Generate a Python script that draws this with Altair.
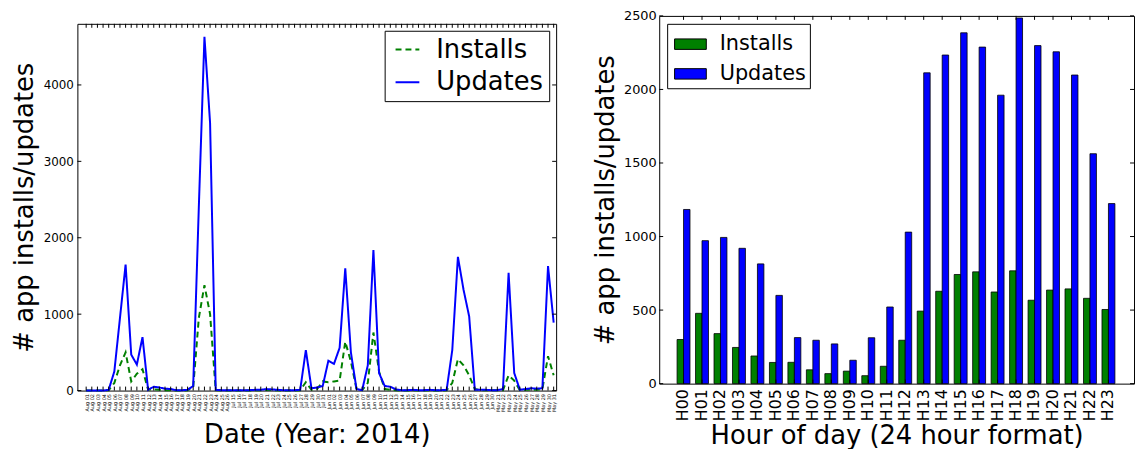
import altair as alt
import pandas as pd

FONT = "DejaVu Sans"

# ---------------- left panel data ----------------
dates = ([f"Aug {d:02d}" for d in range(1, 27)] +
         [f"Jul {d:02d}" for d in range(15, 32)] +
         [f"Jun {d:02d}" for d in range(1, 31)] +
         [f"May {d:02d}" for d in range(21, 32)])

updates = [0, 0, 0, 0, 10, 250, 950, 1650, 470, 340,
           700, 10, 50, 40, 25, 20, 5, 5, 10, 60,
           2400, 4630, 3500, 10, 5, 5, 5, 5, 5, 5,
           10, 10, 20, 15, 10, 5, 5, 5, 10, 530,
           30, 40, 60, 390, 350, 560, 1600, 500, 20, 5,
           330, 1840, 230, 60, 50, 15, 5, 5, 10, 5,
           5, 10, 5, 5, 10, 530, 1750, 1320, 970, 10,
           10, 10, 5, 5, 20, 1540, 230, 10, 20, 30,
           25, 30, 1630, 890]

installs = [0, 0, 0, 0, 5, 100, 330, 500, 120, 220,
            280, 10, 15, 10, 5, 5, 0, 0, 5, 40,
            950, 1380, 1000, 5, 0, 0, 0, 0, 0, 0,
            5, 5, 10, 5, 5, 0, 0, 0, 5, 110,
            10, 20, 120, 110, 120, 130, 640, 380, 20, 5,
            100, 760, 250, 20, 10, 5, 0, 0, 5, 0,
            0, 5, 0, 0, 5, 100, 410, 330, 200, 20,
            5, 5, 5, 5, 5, 200, 130, 5, 10, 10,
            10, 20, 450, 200]

left_yticks = [0, 1000, 2000, 3000, 4000]

# ---------------- right panel data ----------------
hours = [f"H{h:02d}" for h in range(24)]
hour_installs = [300, 478, 340, 246, 188, 144, 145, 94, 68, 85,
                 54, 118, 295, 493, 628, 742, 760, 623, 767, 567,
                 636, 644, 580, 504]
hour_updates = [1184, 972, 994, 920, 814, 600, 313, 295, 270, 159,
                312, 521, 1030, 2113, 2234, 2385, 2288, 1961, 2486, 2298,
                2256, 2098, 1563, 1224]
right_yticks = [0, 500, 1000, 1500, 2000, 2500]

series_names = ["Installs", "Updates"]
colors = ["#008000", "#0000ff"]

W1, H1 = 483, 370
W2, H2 = 479, 371

# ---------------- left chart ----------------
line_df = pd.DataFrame({
    "date": dates * 2,
    "series": ["Installs"] * len(dates) + ["Updates"] * len(dates),
    "value": installs + updates,
})
date_df = pd.DataFrame({"date": dates})
ly_df = pd.DataFrame({"value": left_yticks})

xl = alt.X("date:O", sort=dates,
           scale=alt.Scale(type="point", padding=2.07, align=0.78),
           axis=alt.Axis(title="Date (Year: 2014)", labelAngle=270, labelFontSize=5,
                         labelPadding=3, labelOverlap=False, titleFontSize=26,
                         titlePadding=10))
yl = alt.Y("value:Q", scale=alt.Scale(domain=[0, 4800], nice=False),
           axis=alt.Axis(values=left_yticks, format="d", title="# app installs/updates",
                         titleFontSize=26, labelFontSize=12, labelPadding=4,
                         titlePadding=6))

leg_left = alt.Legend(title=None, orient="top-right", offset=7,
                      labelFontSize=26, labelFont=FONT,
                      symbolType="stroke", symbolSize=576,
                      symbolStrokeWidth=2, labelOffset=16, symbolOffset=4,
                      strokeColor="black", fillColor="white",
                      padding=6, rowPadding=7)

lines = alt.Chart(line_df).mark_line(strokeWidth=2).encode(
    x=xl, y=yl,
    color=alt.Color("series:N", scale=alt.Scale(domain=series_names, range=colors),
                    legend=leg_left),
    strokeDash=alt.StrokeDash("series:N",
                              scale=alt.Scale(domain=series_names, range=[[6, 4], [1, 0]]),
                              legend=leg_left),
)

xr_plain = alt.X("date:O", sort=dates)
bt = alt.Chart(date_df).mark_rule(color="black", strokeWidth=1).encode(
    x=xr_plain, y=alt.value(H1), y2=alt.value(H1 - 4))
tt = alt.Chart(date_df).mark_rule(color="black", strokeWidth=1).encode(
    x=xr_plain, y=alt.value(0), y2=alt.value(4))
lt = alt.Chart(ly_df).mark_rule(color="black").encode(
    y=alt.Y("value:Q"), x=alt.value(0), x2=alt.value(4))
rt = alt.Chart(ly_df).mark_rule(color="black").encode(
    y=alt.Y("value:Q"), x=alt.value(W1 - 4), x2=alt.value(W1))

left_main = alt.layer(lines, bt, tt, lt, rt).properties(width=W1, height=H1)

spacer = alt.Chart(pd.DataFrame({"a": [0]})).mark_point(opacity=0).encode(
    x=alt.value(0), y=alt.value(0)
).properties(width=W1, height=1, view=alt.ViewBackground(strokeOpacity=0, stroke="transparent"))

left = alt.vconcat(spacer, left_main, spacing=4).resolve_scale(
    color="independent", strokeDash="independent"
).resolve_legend(color="independent", strokeDash="independent")

# ---------------- right chart ----------------
bar_df = pd.DataFrame({
    "hour": hours * 2,
    "kind": ["Installs"] * 24 + ["Updates"] * 24,
    "count": hour_installs + hour_updates,
})
hour_df = pd.DataFrame({"hour": hours})
ry_df = pd.DataFrame({"count": right_yticks})

xscale = alt.Scale(paddingInner=0.3, paddingOuter=1, align=0.483)
bars = alt.Chart(bar_df).mark_bar(stroke="black", strokeWidth=0.8).encode(
    x=alt.X("hour:N", sort=hours, scale=xscale,
            axis=alt.Axis(title="Hour of day (24 hour format)", labelAngle=270,
                          labelFontSize=16, labelPadding=5, titleFontSize=26,
                          titlePadding=2)),
    xOffset=alt.XOffset("kind:N", sort=series_names,
                        scale=alt.Scale(paddingInner=0, paddingOuter=0)),
    y=alt.Y("count:Q", scale=alt.Scale(domain=[0, 2500], nice=False),
            axis=alt.Axis(values=right_yticks, format="d", title="# app installs/updates",
                          titleFontSize=26, labelFontSize=13, labelPadding=3,
                          titlePadding=5)),
    color=alt.Color("kind:N", scale=alt.Scale(domain=series_names, range=colors),
                    legend=alt.Legend(title=None, orient="top-left", offset=8,
                                      labelFontSize=21, labelFont=FONT,
                                      symbolType="M-1,-0.33H1V0.33H-1Z",
                                      symbolSize=1024, symbolStrokeColor="black",
                                      symbolStrokeWidth=1, symbolOpacity=1,
                                      labelOffset=13, symbolOffset=3,
                                      strokeColor="black",
                                      fillColor="white", padding=4, rowPadding=3)),
)

hx = alt.X("hour:N", sort=hours, bandPosition=0.5)
rtt = alt.Chart(hour_df).mark_rule(color="black").encode(
    x=hx, y=alt.value(0), y2=alt.value(4))
rbt = alt.Chart(hour_df).mark_rule(color="black").encode(
    x=hx, y=alt.value(H2), y2=alt.value(H2 - 4))
rlt = alt.Chart(ry_df).mark_rule(color="black").encode(
    y=alt.Y("count:Q"), x=alt.value(0), x2=alt.value(4))
rrt = alt.Chart(ry_df).mark_rule(color="black").encode(
    y=alt.Y("count:Q"), x=alt.value(W2 - 4), x2=alt.value(W2))

right = alt.layer(bars, rtt, rbt, rlt, rrt).properties(width=W2, height=H2)

chart = alt.hconcat(left, right, spacing=34).resolve_scale(
    color="independent", strokeDash="independent"
).resolve_legend(color="independent", strokeDash="independent").properties(
    padding={"left": 2, "top": -1, "right": 0, "bottom": 0},
    background="white",
).configure_view(stroke="black", strokeWidth=1).configure_axis(
    domain=False, ticks=False, grid=False, labelColor="black", titleColor="black",
    labelFont=FONT, titleFont=FONT, titleFontWeight="normal",
).configure_title(font=FONT)

chart.save("out.html", embed_options={"renderer": "svg", "actions": False})
